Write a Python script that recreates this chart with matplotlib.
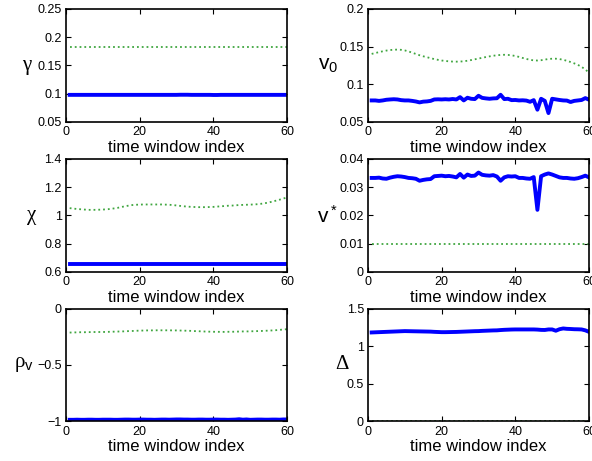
import numpy as np
import matplotlib.pyplot as plt
from matplotlib.ticker import FuncFormatter

plt.rcParams['font.family'] = ['Liberation Sans', 'DejaVu Sans']
plt.rcParams['mathtext.fontset'] = 'custom'
plt.rcParams['mathtext.rm'] = 'Liberation Sans'
plt.rcParams['mathtext.it'] = 'Liberation Sans'

# time window index 1..60
windows = np.arange(1, 61)

# fitted parameter per window (blue) and reference value (green dotted)
gamma_fit = [0.098, 0.098, 0.098, 0.098, 0.098, 0.098, 0.098, 0.098, 0.098, 0.098,
             0.098, 0.098, 0.098, 0.098, 0.098, 0.098, 0.098, 0.098, 0.098, 0.098,
             0.098, 0.098, 0.098, 0.098, 0.098, 0.098, 0.098, 0.098, 0.098, 0.098,
             0.0982, 0.0982, 0.0982, 0.098, 0.098, 0.098, 0.098, 0.098, 0.098, 0.0978,
             0.0978, 0.098, 0.098, 0.098, 0.098, 0.098, 0.098, 0.098, 0.098, 0.098,
             0.098, 0.098, 0.098, 0.098, 0.098, 0.098, 0.098, 0.098, 0.098, 0.098]
gamma_ref = [0.182] * 60

v0_fit = [0.0786, 0.0786, 0.0780, 0.0786, 0.0795, 0.0799, 0.0802, 0.0799, 0.0790, 0.0786,
          0.0786, 0.0780, 0.0772, 0.0760, 0.0770, 0.0773, 0.0780, 0.0799, 0.0801, 0.0799,
          0.0802, 0.0799, 0.0805, 0.0799, 0.0830, 0.0786, 0.0822, 0.0808, 0.0804, 0.0848,
          0.0820, 0.0813, 0.0808, 0.0813, 0.0815, 0.0861, 0.0804, 0.0808, 0.0790, 0.0792,
          0.0786, 0.0788, 0.0784, 0.0768, 0.0790, 0.0663, 0.0808, 0.0780, 0.0618, 0.0808,
          0.0800, 0.0792, 0.0786, 0.0784, 0.0765, 0.0780, 0.0786, 0.0792, 0.0817, 0.0796]
v0_ref = [0.1404, 0.1415, 0.1428, 0.1438, 0.1448, 0.1455, 0.1459, 0.1461, 0.1458, 0.1450,
          0.1437, 0.1420, 0.1403, 0.1386, 0.1372, 0.1360, 0.1347, 0.1335, 0.1325, 0.1316,
          0.1310, 0.1305, 0.1302, 0.1301, 0.1302, 0.1306, 0.1313, 0.1322, 0.1332, 0.1342,
          0.1352, 0.1362, 0.1371, 0.1379, 0.1386, 0.1390, 0.1392, 0.1390, 0.1385, 0.1376,
          0.1364, 0.1350, 0.1337, 0.1325, 0.1318, 0.1316, 0.1320, 0.1328, 0.1336, 0.1340,
          0.1340, 0.1335, 0.1326, 0.1312, 0.1296, 0.1278, 0.1258, 0.1231, 0.1198, 0.1153]

chi_fit = [0.66] * 60
chi_ref = [1.052, 1.049, 1.046, 1.044, 1.042, 1.040, 1.040, 1.040, 1.041, 1.042,
           1.044, 1.046, 1.050, 1.054, 1.060, 1.065, 1.070, 1.074, 1.076, 1.077,
           1.078, 1.078, 1.078, 1.078, 1.078, 1.078, 1.077, 1.076, 1.074, 1.071,
           1.068, 1.065, 1.063, 1.061, 1.060, 1.059, 1.059, 1.059, 1.060, 1.061,
           1.063, 1.065, 1.067, 1.069, 1.070, 1.072, 1.074, 1.075, 1.076, 1.077,
           1.078, 1.080, 1.083, 1.087, 1.092, 1.098, 1.105, 1.112, 1.120, 1.128]

vstar_fit = [0.0333, 0.0333, 0.0334, 0.0331, 0.0330, 0.0334, 0.0337, 0.0339, 0.0338, 0.0336,
             0.0333, 0.0332, 0.0330, 0.0323, 0.0326, 0.0328, 0.0329, 0.0339, 0.0340, 0.0341,
             0.0339, 0.0340, 0.0338, 0.0335, 0.0347, 0.0334, 0.0345, 0.0340, 0.0341, 0.0352,
             0.0344, 0.0342, 0.0341, 0.0343, 0.0338, 0.0323, 0.0335, 0.0339, 0.0338, 0.0339,
             0.0333, 0.0333, 0.0331, 0.0330, 0.0336, 0.0220, 0.0339, 0.0345, 0.0349, 0.0345,
             0.0340, 0.0335, 0.0333, 0.0333, 0.0331, 0.0330, 0.0332, 0.0336, 0.0341, 0.0335]
vstar_ref = [0.01] * 60

rho_fit = [-0.985, -0.985, -0.984, -0.985, -0.985, -0.984, -0.984, -0.985, -0.985, -0.984,
           -0.984, -0.984, -0.985, -0.985, -0.984, -0.983, -0.983, -0.984, -0.984, -0.983,
           -0.983, -0.984, -0.984, -0.985, -0.984, -0.983, -0.983, -0.984, -0.983, -0.982,
           -0.982, -0.983, -0.983, -0.984, -0.984, -0.983, -0.983, -0.984, -0.984, -0.983,
           -0.983, -0.984, -0.984, -0.985, -0.984, -0.983, -0.980, -0.984, -0.982, -0.985,
           -0.984, -0.983, -0.983, -0.984, -0.984, -0.983, -0.983, -0.984, -0.982, -0.982]
rho_ref = [-0.213, -0.212, -0.211, -0.210, -0.210, -0.209, -0.209, -0.208, -0.208, -0.208,
           -0.207, -0.206, -0.205, -0.204, -0.203, -0.202, -0.200, -0.199, -0.197, -0.196,
           -0.195, -0.194, -0.194, -0.193, -0.193, -0.193, -0.193, -0.193, -0.194, -0.194,
           -0.195, -0.196, -0.197, -0.198, -0.200, -0.201, -0.203, -0.204, -0.205, -0.206,
           -0.206, -0.207, -0.207, -0.206, -0.206, -0.205, -0.204, -0.203, -0.203, -0.202,
           -0.201, -0.200, -0.199, -0.197, -0.196, -0.194, -0.192, -0.189, -0.186, -0.183]

delta_fit = [1.182, 1.184, 1.186, 1.188, 1.190, 1.192, 1.194, 1.196, 1.198, 1.200,
             1.199, 1.198, 1.197, 1.196, 1.195, 1.194, 1.193, 1.190, 1.188, 1.186,
             1.186, 1.187, 1.188, 1.189, 1.191, 1.193, 1.195, 1.197, 1.199, 1.200,
             1.203, 1.205, 1.207, 1.209, 1.210, 1.214, 1.217, 1.219, 1.221, 1.222,
             1.222, 1.222, 1.222, 1.222, 1.222, 1.220, 1.216, 1.215, 1.222, 1.222,
             1.205, 1.225, 1.235, 1.230, 1.228, 1.225, 1.224, 1.222, 1.210, 1.190]
delta_ref = [0.003] * 60

panels = [
    ('\u03b3', gamma_fit, gamma_ref, (0.05, 0.25), [0.05, 0.1, 0.15, 0.2, 0.25]),
    ('v$_0$', v0_fit, v0_ref, (0.05, 0.2), [0.05, 0.1, 0.15, 0.2]),
    ('\u03c7', chi_fit, chi_ref, (0.6, 1.4), [0.6, 0.8, 1.0, 1.2, 1.4]),
    ('v$^*$', vstar_fit, vstar_ref, (0, 0.04), [0, 0.01, 0.02, 0.03, 0.04]),
    ('\u03c1$_\\mathrm{v}$', rho_fit, rho_ref, (-1, 0), [-1, -0.5, 0]),
    ('\u0394', delta_fit, delta_ref, (0, 1.5), [0, 0.5, 1, 1.5]),
]
label_x = [-0.18, -0.18, -0.155, -0.185, -0.19, -0.12]
serif = ['Liberation Serif', 'DejaVu Serif']
sans = ['Liberation Sans', 'DejaVu Sans']

fmt = FuncFormatter(lambda v, p: ('%g' % v).replace('-', '\u2212'))

fig = plt.figure(figsize=(5.92, 4.61), dpi=100)
lefts = [0.1115, 0.6216]
bottoms = [0.7354, 0.41, 0.0857]

for i, (name, fit, ref, ylim, yticks) in enumerate(panels):
    ax = fig.add_axes([lefts[i % 2], bottoms[i // 2], 0.3733, 0.2451])
    ax.plot(windows, ref, ':', color=(0.25, 0.65, 0.25), lw=1.3)
    ax.plot(windows, fit, '-', color='blue', lw=2.8)
    ax.set_xlim(0, 60)
    ax.set_ylim(*ylim)
    ax.set_xticks([0, 20, 40, 60])
    ax.set_yticks(yticks)
    ax.yaxis.set_major_formatter(fmt)
    ax.tick_params(direction='in', length=3.5, width=0.8, top=True, right=True,
                   labelsize=9, pad=3)
    for s in ax.spines.values():
        s.set_linewidth(1.2)
    ax.set_xlabel('time window index', fontsize=12, labelpad=1)
    fam = sans if name.startswith('v') else serif
    ax.set_ylabel(name, fontsize=15, rotation=0, family=fam, va='center', ha='center')
    ax.yaxis.set_label_coords(label_x[i], 0.5)

plt.savefig('out.png', dpi=100)
